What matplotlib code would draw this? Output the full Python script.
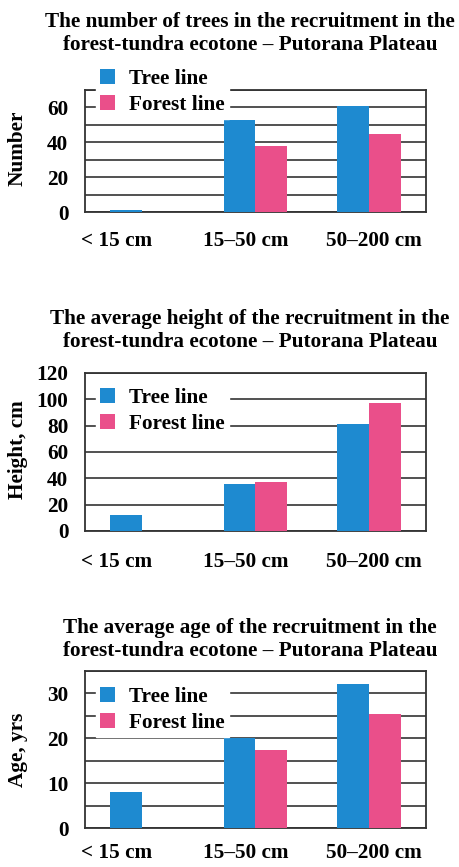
import matplotlib
matplotlib.use("Agg")
import matplotlib.pyplot as plt
import numpy as np

categories = ["< 15 cm", "15–50 cm", "50–200 cm"]
series_names = ["Tree line", "Forest line"]

number_tree = [1, 53, 61]
number_forest = [0, 38, 45]

height_tree = [12, 36, 81]
height_forest = [0, 37, 97]

age_tree = [8, 20, 32]
age_forest = [0, 17.5, 25.5]

titles = [
    "The number of trees in the recruitment in the\nforest-tundra ecotone – Putorana Plateau",
    "The average height of the recruitment in the\nforest-tundra ecotone – Putorana Plateau",
    "The average age of the recruitment in the\nforest-tundra ecotone – Putorana Plateau",
]
ylabels = ["Number", "Height, cm", "Age, yrs"]
yticks_list = [[0, 20, 40, 60], [0, 20, 40, 60, 80, 100, 120], [0, 10, 20, 30]]
ymax_list = [70, 120, 35]
grid_step = [10, 20, 5]

BLUE = "#1e8ad0"
PINK = "#ea4f8a"

plt.rcParams["font.family"] = ["Liberation Serif", "DejaVu Serif"]
plt.rcParams["font.weight"] = "bold"

FS = 15.3

W, H = 459, 867
fig = plt.figure(figsize=(W / 100, H / 100), dpi=100)

# axes boxes in pixel coordinates: (left, top, right, bottom)
boxes = [(85, 90, 426, 212), (85, 373, 426, 531), (85, 671, 426, 828)]
title_centers = [33.5, 330.5, 639.5]
ylabel_centers = [148, 450, 750]
legend_tops = [65, 384, 683]
xpads = [14, 15, 11]
label_shift = [-0.22, -0.09, 0.04]

data = [(number_tree, number_forest), (height_tree, height_forest), (age_tree, age_forest)]

x = np.arange(len(categories))
bw = 0.28

for i in range(3):
    l, t, r, b = boxes[i]
    ax = fig.add_axes([l / W, 1 - b / H, (r - l) / W, (b - t) / H])
    tree, forest = data[i]
    bars1 = ax.bar(x - bw / 2, tree, bw, color=BLUE, zorder=3, label=series_names[0])
    bars2 = ax.bar(x + bw / 2, forest, bw, color=PINK, zorder=3, label=series_names[1])
    ax.set_xlim(-0.5, 2.5)
    ax.set_ylim(0, ymax_list[i])
    ax.set_yticks(yticks_list[i])
    ax.set_yticks(np.arange(0, ymax_list[i] + 0.1, grid_step[i]), minor=True)
    ax.yaxis.grid(True, which="both", color="#333333", lw=1.2, zorder=1)
    ax.set_axisbelow(True)
    ax.tick_params(axis="both", which="both", length=0, labelsize=FS)
    ax.tick_params(axis="y", pad=12)
    ax.tick_params(axis="x", pad=xpads[i])
    ax.set_xticks(x + np.array(label_shift))
    ax.set_xticklabels(categories)
    for sp in ax.spines.values():
        sp.set_color("#333333")
        sp.set_linewidth(1.3)
    fig.text(250 / W, 1 - title_centers[i] / H, titles[i], ha="center", va="center",
             fontsize=FS, fontweight="bold", linespacing=1.17)
    fig.text(18 / W, 1 - ylabel_centers[i] / H, ylabels[i], ha="center", va="center",
             rotation=90, fontsize=FS, fontweight="bold")
    leg = ax.legend(handles=[bars1, bars2], loc="upper left",
                    bbox_to_anchor=(96 / W, 1 - legend_tops[i] / H),
                    bbox_transform=fig.transFigure,
                    frameon=True, fancybox=False, framealpha=1, edgecolor="white",
                    facecolor="white", fontsize=FS, handlelength=0.7, handleheight=0.7,
                    handletextpad=0.65, labelspacing=0.25, borderpad=0.2, borderaxespad=0)
    leg.set_zorder(5)
    for txt in leg.get_texts():
        txt.set_fontweight("bold")

fig.savefig("out.png", dpi=100, facecolor="white")
